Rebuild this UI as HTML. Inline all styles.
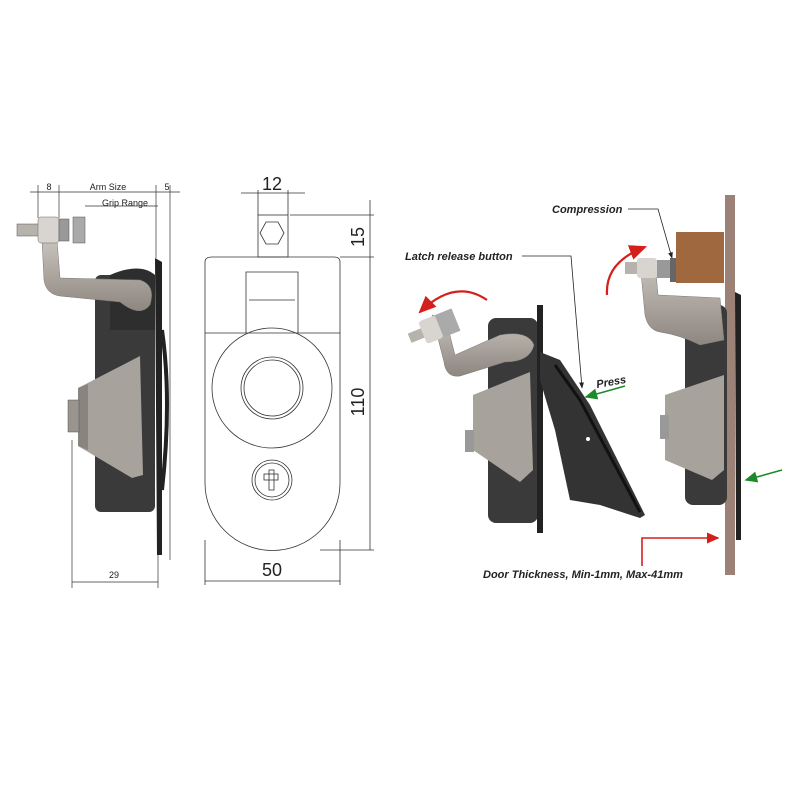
<!DOCTYPE html>
<html><head><style>html,body{margin:0;padding:0;background:#fff}svg{display:block}</style></head><body>
<svg width="800" height="800" viewBox="0 0 800 800" xmlns="http://www.w3.org/2000/svg" font-family="Liberation Sans, sans-serif">
<defs>
<marker id="a" markerWidth="8" markerHeight="6" refX="7" refY="3" orient="auto"><path d="M0,0 L8,3 L0,6z" fill="#222"/></marker>
<marker id="r" markerWidth="8" markerHeight="7" refX="7" refY="3.5" orient="auto"><path d="M0,0 L8,3.5 L0,7z" fill="#d3201c"/></marker>
<marker id="g" markerWidth="8" markerHeight="7" refX="7" refY="3.5" orient="auto"><path d="M0,0 L8,3.5 L0,7z" fill="#1d8a2a"/></marker>
<linearGradient id="arm" x1="0" y1="0" x2="0" y2="1"><stop offset="0" stop-color="#c9c3bd"/><stop offset="1" stop-color="#8e8780"/></linearGradient>
</defs>
<g stroke="#333" stroke-width="0.7" fill="none">
<line x1="30" y1="192" x2="180" y2="192"/>
<line x1="85" y1="206" x2="158" y2="206"/>
<line x1="38" y1="185" x2="38" y2="218"/>
<line x1="59" y1="185" x2="59" y2="218"/>
<line x1="156" y1="185" x2="156" y2="258"/>
<line x1="170" y1="185" x2="170" y2="560"/>
<line x1="72" y1="440" x2="72" y2="588"/>
<line x1="158" y1="555" x2="158" y2="588"/>
<line x1="72" y1="582" x2="158" y2="582"/>
</g>
<g font-size="9" fill="#222" text-anchor="middle">
<text x="49" y="190">8</text><text x="108" y="190">Arm Size</text><text x="167" y="190">5</text>
<text x="125" y="206">Grip Range</text><text x="114" y="578">29</text>
</g>
<rect x="95" y="275" width="60" height="237" rx="6" fill="#3a3a3a"/>
<path d="M110,275 Q140,262 155,275 L155,330 L110,330z" fill="#2e2e2e"/>
<path d="M155,258 L162,262 L162,555 L157,555z" fill="#222"/>
<path d="M162,330 Q172,400 162,490" stroke="#222" stroke-width="4" fill="none"/>
<path d="M78,388 L140,356 L143,475 L132,478 L78,446z" fill="#a8a29c"/>
<path d="M78,388 L88,384 L88,450 L78,446z" fill="#8a847e"/>
<rect x="68" y="400" width="11" height="32" fill="#9a948e" stroke="#555" stroke-width="0.5"/>
<path d="M42,240 L57,240 L60,278 L140,280 Q156,285 150,305 Q140,318 120,302 L60,296 Q46,294 44,280z" fill="url(#arm)" stroke="#777" stroke-width="0.5"/>
<rect x="17" y="224" width="22" height="12" fill="#b8b2ac" stroke="#555" stroke-width="0.5"/>
<rect x="38" y="217" width="21" height="26" rx="3" fill="#d8d4d0" stroke="#666" stroke-width="0.5"/>
<rect x="59" y="219" width="10" height="22" fill="#999" stroke="#555" stroke-width="0.5"/>
<rect x="73" y="217" width="12" height="26" fill="#aaa" stroke="#555" stroke-width="0.5"/>
<g stroke="#333" stroke-width="0.8" fill="none">
<path d="M205,262 Q205,257 212,257 L334,257 Q340,257 340,262 L340,483 A67,67 0 0 1 205,483 Z"/>
<line x1="205" y1="333" x2="340" y2="333"/>
<path d="M246,333 L246,272 L298,272 L298,333"/>
<line x1="249" y1="300" x2="295" y2="300"/>
<rect x="258" y="215" width="30" height="42"/>
<polygon points="266,222 278,222 284,233 278,244 266,244 260,233"/>
<circle cx="272" cy="388" r="60"/>
<circle cx="272" cy="388" r="31"/><circle cx="272" cy="388" r="28"/>
<circle cx="272" cy="480" r="20"/><circle cx="272" cy="480" r="17"/>
<rect x="269" y="470" width="5" height="20"/><rect x="264" y="474" width="14" height="6"/>
<line x1="241" y1="193" x2="305" y2="193"/>
<line x1="258" y1="190" x2="258" y2="215"/><line x1="288" y1="190" x2="288" y2="215"/>
<line x1="290" y1="215" x2="374" y2="215"/>
<line x1="340" y1="257" x2="374" y2="257"/>
<line x1="320" y1="550" x2="374" y2="550"/>
<line x1="370" y1="200" x2="370" y2="550"/>
<line x1="205" y1="540" x2="205" y2="585"/><line x1="340" y1="540" x2="340" y2="585"/>
<line x1="205" y1="581" x2="340" y2="581"/>
</g>
<g font-size="18" fill="#222" text-anchor="middle">
<text x="272" y="190">12</text><text x="272" y="576">50</text>
<text transform="translate(364,237) rotate(-90)">15</text>
<text transform="translate(364,402) rotate(-90)">110</text>
</g>
<rect x="725" y="195" width="10" height="380" fill="#9c8276"/>
<rect x="676" y="232" width="48" height="51" fill="#a0683e"/>
<rect x="488" y="318" width="50" height="205" rx="8" fill="#3a3a3a"/>
<path d="M537,305 L543,305 L543,533 L537,533z" fill="#222"/>
<path d="M540,352 L560,360 L590,405 L645,515 L640,518 L600,505 L570,500 L555,430 L540,380z" fill="#333"/>
<path d="M555,365 L580,400 L640,512" stroke="#111" stroke-width="3" fill="none"/>
<circle cx="588" cy="439" r="2" fill="#fff"/>
<path d="M473,395 L530,372 L533,470 L520,482 L473,450z" fill="#a8a29c"/>
<rect x="465" y="430" width="9" height="22" fill="#999"/>
<path d="M432,315 L446,320 L455,355 L500,335 Q528,330 534,345 Q530,362 505,362 L460,376 Q446,378 444,362z" fill="url(#arm)" stroke="#777" stroke-width="0.5"/>
<g transform="rotate(-22 430 330)"><rect x="408" y="325" width="15" height="10" fill="#b8b2ac"/><rect x="422" y="318" width="18" height="24" rx="3" fill="#d8d4d0"/><rect x="440" y="318" width="18" height="24" fill="#aaa"/></g>
<rect x="685" y="305" width="42" height="200" rx="8" fill="#3a3a3a"/>
<path d="M735,292 L741,295 L741,540 L736,540z" fill="#222"/>
<path d="M665,395 L724,375 L724,470 L712,480 L665,460z" fill="#a8a29c"/>
<rect x="660" y="415" width="9" height="24" fill="#999"/>
<path d="M640,262 L655,262 L658,295 L720,298 L724,340 L700,345 Q680,335 660,332 Q648,330 645,315z" fill="url(#arm)" stroke="#777" stroke-width="0.5"/>
<rect x="625" y="262" width="13" height="12" fill="#b8b2ac"/>
<rect x="637" y="258" width="20" height="20" rx="3" fill="#d8d4d0"/>
<rect x="657" y="260" width="16" height="18" fill="#999"/>
<rect x="670" y="258" width="6" height="24" fill="#666"/>
<g fill="none" stroke-width="2.2">
<path d="M487,300 Q455,278 420,312" stroke="#d3201c" marker-end="url(#r)"/>
<path d="M607,295 Q605,262 645,247" stroke="#d3201c" marker-end="url(#r)"/>
<path d="M642,566 L642,538 L718,538" stroke="#d3201c" stroke-width="1.6" marker-end="url(#r)"/>
<path d="M625,386 L586,397" stroke="#1d8a2a" stroke-width="1.6" marker-end="url(#g)"/>
<path d="M782,470 L746,480" stroke="#1d8a2a" stroke-width="1.6" marker-end="url(#g)"/>
</g>
<g stroke="#222" stroke-width="0.8" fill="none">
<path d="M522,256 L571,256 L582,388" marker-end="url(#a)"/>
<path d="M628,209 L658,209 L672,258" marker-end="url(#a)"/>
</g>
<g font-size="11" font-weight="bold" font-style="italic" fill="#222">
<text x="552" y="213">Compression</text>
<text x="405" y="260">Latch release button</text>
<text x="483" y="578">Door Thickness, Min-1mm, Max-41mm</text>
<text transform="translate(597,388) rotate(-10)">Press</text>
</g>
</svg>
</body></html>
